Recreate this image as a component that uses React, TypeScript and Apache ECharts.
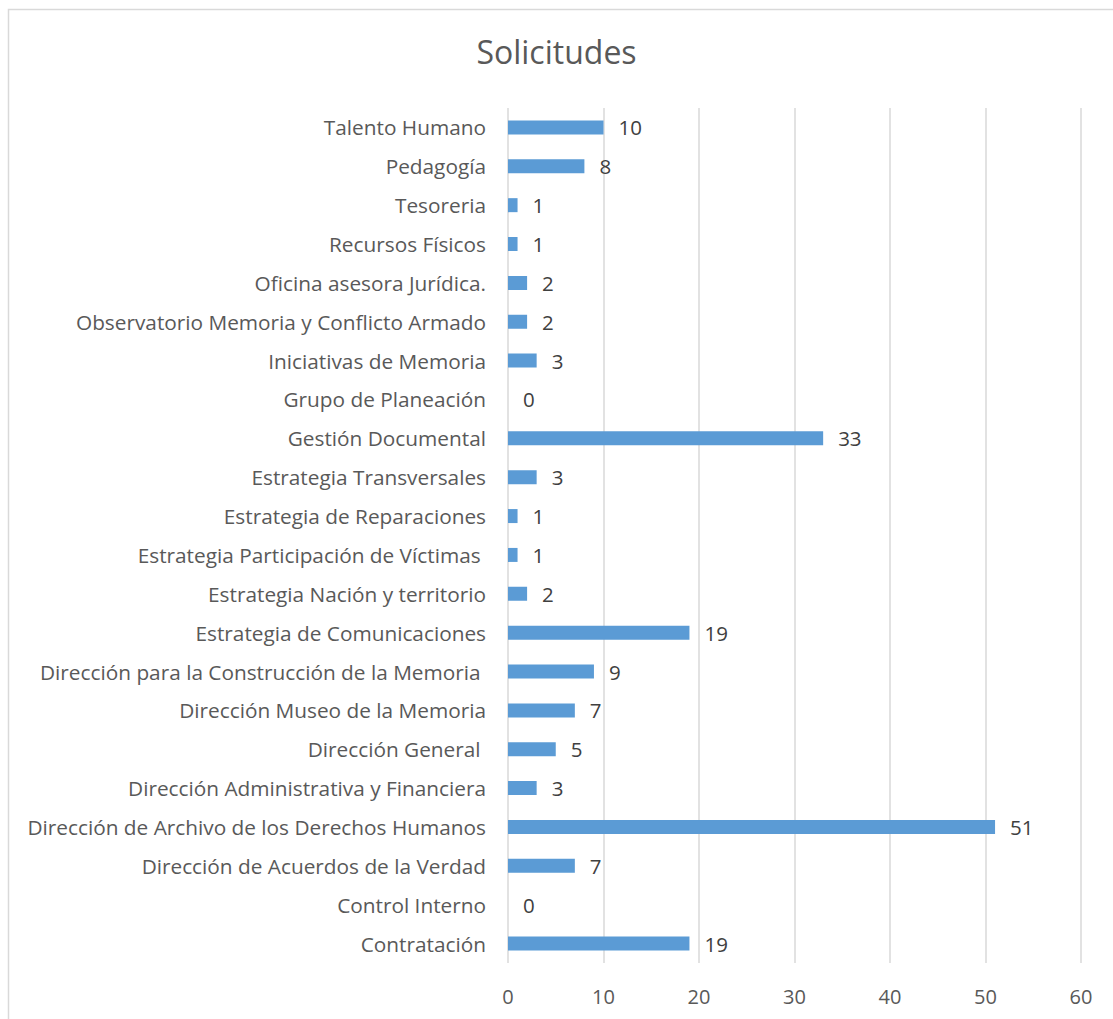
import React, { useEffect, useRef } from "react";
import * as echarts from "echarts";

const categories = [
  "Contratación",
  "Control Interno",
  "Dirección de Acuerdos de la Verdad",
  "Dirección de Archivo de los Derechos Humanos",
  "Dirección Administrativa y Financiera",
  "Dirección General ",
  "Dirección Museo de la Memoria",
  "Dirección para la Construcción de la Memoria ",
  "Estrategia de Comunicaciones",
  "Estrategia Nación y territorio",
  "Estrategia Participación de Víctimas ",
  "Estrategia de Reparaciones",
  "Estrategia Transversales",
  "Gestión Documental",
  "Grupo de Planeación",
  "Iniciativas de Memoria",
  "Observatorio Memoria y Conflicto Armado",
  "Oficina asesora Jurídica.",
  "Recursos Físicos",
  "Tesoreria",
  "Pedagogía",
  "Talento Humano",
];

const values = [19, 0, 7, 51, 3, 5, 7, 9, 19, 2, 1, 1, 3, 33, 0, 3, 2, 2, 1, 1, 8, 10];

const xMin = 0;
const xMax = 60;
const xInterval = 10;

const FONT = "Open Sans";

export default function App() {
  const ref = useRef<HTMLDivElement>(null);
  useEffect(() => {
    if (!ref.current) return;
    const chart = echarts.init(ref.current, null, { renderer: "svg" });
    chart.setOption({
      animation: false,
      backgroundColor: "#ffffff",
      title: {
        text: "Solicitudes",
        left: "center",
        top: 30,
        textStyle: { fontFamily: FONT, fontSize: 32, fontWeight: "normal", color: "#595959" },
      },
      graphic: [
        {
          type: "rect",
          shape: { x: 8.5, y: 9.5, width: 1200, height: 1200 },
          style: { fill: "none", stroke: "#d9d9d9", lineWidth: 1.5 },
          silent: true,
        },
      ],
      grid: { left: 508, right: 32, top: 108, bottom: 56, containLabel: false },
      xAxis: {
        type: "value",
        min: xMin,
        max: xMax,
        interval: xInterval,
        axisLine: { show: false },
        axisTick: { show: false },
        splitLine: { show: true, lineStyle: { color: "#d9d9d9", width: 1.5 } },
        axisLabel: { fontFamily: FONT, fontSize: 20, color: "#595959", margin: 23 },
      },
      yAxis: {
        type: "category",
        data: categories,
        axisLine: { show: false },
        axisTick: { show: false },
        axisLabel: { fontFamily: FONT, fontSize: 20.8, color: "#595959", margin: 22 },
      },
      series: [
        {
          type: "bar",
          data: values,
          barWidth: 14,
          itemStyle: { color: "#5b9bd5" },
          label: {
            show: true,
            position: "right",
            distance: 15,
            fontFamily: FONT,
            fontSize: 20.5,
            color: "#404040",
          },
        },
      ],
    });
    return () => chart.dispose();
  }, []);
  return (
    <div
      ref={ref}
      style={{ position: "absolute", left: 0, top: 0, width: 1113, height: 1019 }}
    />
  );
}
